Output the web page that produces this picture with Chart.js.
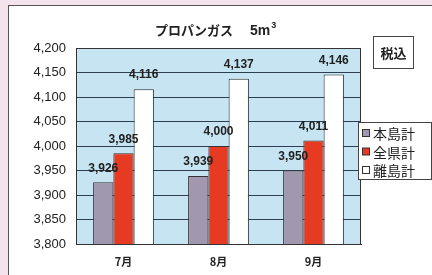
<!DOCTYPE html>
<html lang="ja">
<head>
<meta charset="UTF-8">
<title>プロパンガス 5m3</title>
<script src="https://cdn.jsdelivr.net/npm/chart.js@4.4.1/dist/chart.umd.min.js"></script>
<style>
    body {
        margin: 0;
        width: 432px;
        height: 275px;
        overflow: hidden;
        background: #f4e3ec;
        font-family: "Liberation Sans", Arial, sans-serif;
    }
    .panel {
        position: absolute;
        left: 8px;
        top: 5px;
        width: 440px;
        height: 290px;
        background: #fff;
        border: 1px solid #555;
    }
    #chart {
        position: absolute;
        left: 9px;
        top: 6px;
    }
</style>
</head>
<body>
<div class="panel"></div>
<canvas id="chart" width="423" height="269"></canvas>

<script>
    // data
    const months = ["7月", "8月", "9月"];
    const mainIsland = [3926, 3939, 3950];     // 本島計
    const prefecture = [3985, 4000, 4011];     // 全県計
    const remoteIslands = [4116, 4137, 4146];  // 離島計
    const yTicks = [3800, 3850, 3900, 3950, 4000, 4050, 4100, 4150, 4200];

    const fmt = v => v.toLocaleString("en-US");

    // plot background + frame, value labels, title, legend, 税込 box
    const decorations = {
        id: "decorations",
        beforeDraw(chart) {
            const { ctx, chartArea: a } = chart;
            ctx.save();
            ctx.fillStyle = "#c6e4f1";
            ctx.fillRect(a.left, a.top, a.right - a.left, a.bottom - a.top);
            ctx.restore();
        },
        afterDraw(chart) {
            const { ctx, chartArea: a } = chart;
            ctx.save();
            // frame
            ctx.strokeStyle = "#333";
            ctx.lineWidth = 1;
            ctx.strokeRect(a.left + 0.5, a.top + 0.5, a.right - a.left - 1, a.bottom - a.top);

            // value labels
            ctx.fillStyle = "#222";
            ctx.font = "bold 12px 'Liberation Sans', Arial, sans-serif";
            ctx.textAlign = "center";
            ctx.textBaseline = "middle";
            chart.data.datasets.forEach((ds, i) => {
                chart.getDatasetMeta(i).data.forEach((bar, j) => {
                    ctx.fillText(fmt(ds.data[j]), bar.x, bar.y - 14);
                });
            });

            // title
            ctx.font = "bold 13px 'Noto Sans CJK JP', sans-serif";
            ctx.textAlign = "left";
            ctx.textBaseline = "alphabetic";
            ctx.fillText("プロパンガス", 146, 29);
            ctx.font = "bold 14px 'Liberation Sans', sans-serif";
            ctx.fillText("5m", 241, 29);
            const w = ctx.measureText("5m").width;
            ctx.font = "bold 9px 'Liberation Sans', sans-serif";
            ctx.fillText("3", 241 + w + 1, 22);

            // 税込 box
            ctx.strokeStyle = "#444";
            ctx.strokeRect(364.5, 30.5, 40, 32);
            ctx.font = "bold 13px 'Noto Sans CJK JP', sans-serif";
            ctx.textAlign = "center";
            ctx.textBaseline = "middle";
            ctx.fillText("税込", 384.5, 47);

            // legend
            ctx.fillStyle = "#fff";
            ctx.fillRect(349, 116, 73, 57);
            ctx.strokeStyle = "#444";
            ctx.strokeRect(349.5, 116.5, 73, 57);
            ctx.font = "14px 'Noto Sans CJK JP', sans-serif";
            ctx.textAlign = "left";
            chart.data.datasets.forEach((ds, i) => {
                const y = 127 + i * 18.5;
                ctx.fillStyle = ds.backgroundColor;
                ctx.fillRect(353.5, y - 3.5, 7, 7);
                ctx.strokeStyle = "#333";
                ctx.strokeRect(353.5, y - 3.5, 7, 7);
                ctx.fillStyle = "#222";
                ctx.fillText(ds.label, 364, y + 1);
            });
            ctx.restore();
        }
    };

    new Chart(document.getElementById("chart"), {
        type: "bar",
        data: {
            labels: months,
            datasets: [
                { label: "本島計", data: mainIsland, backgroundColor: "#a197ae" },
                { label: "全県計", data: prefecture, backgroundColor: "#e63a22" },
                { label: "離島計", data: remoteIslands, backgroundColor: "#ffffff" }
            ].map(d => ({ ...d, borderColor: "#333", borderWidth: 1,
                          categoryPercentage: 0.64, barPercentage: 1 }))
        },
        options: {
            responsive: false,
            animation: false,
            layout: { padding: { top: 42, right: 71, left: 0, bottom: 0 } },
            plugins: {
                legend: { display: false },
                title: { display: false },
                tooltip: { enabled: false }
            },
            scales: {
                x: {
                    afterFit: s => { s.height = 31; },
                    grid: { display: false, drawTicks: false },
                    border: { color: "#333" },
                    ticks: {
                        padding: 11,
                        color: "#222",
                        font: { family: "'Noto Sans CJK JP', sans-serif", size: 11, weight: "bold" }
                    }
                },
                y: {
                    min: 3800,
                    max: 4200,
                    afterFit: s => { s.width = 67; },
                    afterBuildTicks: s => { s.ticks = yTicks.map(v => ({ value: v })); },
                    grid: { color: "#2c3e50", drawTicks: false },
                    border: { color: "#333" },
                    ticks: {
                        padding: 10,
                        color: "#222",
                        font: { family: "'Liberation Sans', Arial, sans-serif", size: 13 },
                        callback: v => fmt(v)
                    }
                }
            }
        },
        plugins: [decorations]
    });
</script>
</body>
</html>
